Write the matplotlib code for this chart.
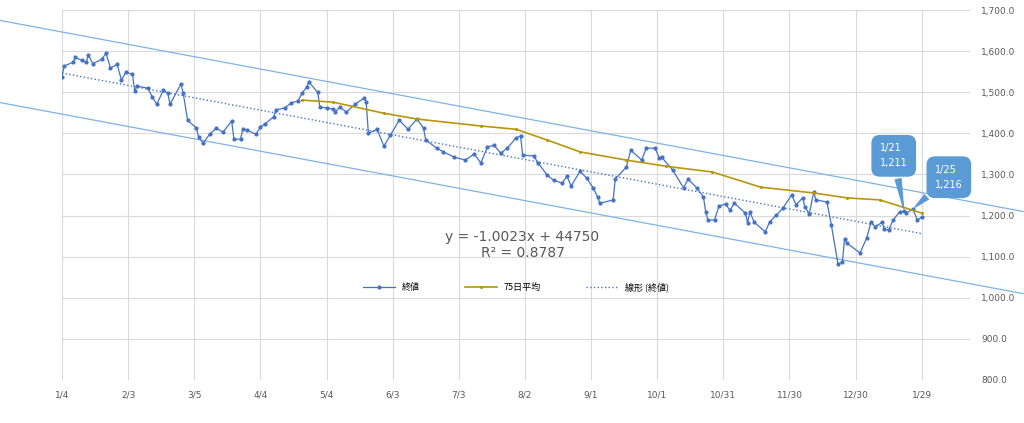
import numpy as np
import pandas as pd
import matplotlib.pyplot as plt

start = pd.Timestamp("2018-01-04")

# closing price: (days since 1/4, value)
close_days = [0, 1, 5, 6, 9, 11, 12, 14, 18, 20, 22, 25, 27, 29, 32, 33, 34, 39, 41, 43,
              46, 48, 49, 54, 55, 57, 61, 62, 64, 67, 70, 73, 77, 78, 81, 82, 84, 88, 90, 92,
              96, 97, 101, 104, 107, 109, 111, 112, 116, 117, 120, 123, 124, 126, 129, 133, 137, 138, 139, 143,
              146, 149, 153, 157, 161, 164, 165, 170, 173, 178, 183, 187, 190, 193, 196, 199, 202, 206, 208, 209,
              214, 216, 220, 223, 227, 229, 231, 235, 238, 241, 243, 244, 250, 251, 256, 258, 263, 265, 269, 271,
              272, 277, 282, 284, 288, 291, 292, 293, 296, 298, 301, 303, 305, 310, 311, 312, 314, 319, 321, 324,
              327, 331, 333, 336, 337, 339, 341, 342, 347, 349, 352, 354, 355, 356, 362, 365, 367, 369, 372, 373,
              375, 377, 380, 382, 383, 386, 388, 390]
close_vals = [1538, 1564, 1573, 1585, 1578, 1573, 1590, 1570, 1580, 1595, 1559, 1568, 1530, 1549, 1544, 1503, 1515, 1510, 1488, 1471,
              1505, 1498, 1471, 1520, 1498, 1432, 1413, 1391, 1376, 1398, 1413, 1403, 1430, 1386, 1386, 1410, 1408, 1398, 1415, 1423,
              1440, 1457, 1462, 1474, 1479, 1498, 1513, 1525, 1500, 1464, 1462, 1459, 1452, 1464, 1452, 1471, 1486, 1476, 1400, 1410,
              1369, 1396, 1432, 1410, 1435, 1413, 1384, 1364, 1355, 1342, 1335, 1350, 1328, 1367, 1371, 1352, 1364, 1389, 1394, 1347,
              1345, 1328, 1299, 1286, 1279, 1296, 1272, 1308, 1291, 1267, 1245, 1230, 1238, 1289, 1318, 1359, 1335, 1364, 1364, 1340,
              1342, 1311, 1267, 1289, 1267, 1245, 1209, 1189, 1189, 1223, 1228, 1213, 1230, 1206, 1182, 1209, 1184, 1160, 1184, 1201,
              1218, 1250, 1226, 1243, 1221, 1204, 1257, 1238, 1233, 1177, 1082, 1087, 1143, 1133, 1109, 1145, 1184, 1172, 1184, 1167,
              1165, 1189, 1209, 1211, 1206, 1216, 1189, 1196]

# 75-day moving average
ma_days = [109, 123, 146, 161, 190, 206, 220, 235, 256, 274, 295, 317, 341, 356, 371, 390]
ma_vals = [1481, 1476, 1449, 1435, 1418, 1410, 1384, 1355, 1335, 1320, 1306, 1269, 1255, 1243, 1238, 1206]

slope, intercept = -1.0023, 44750
tick_labels = ["1/4", "2/3", "3/5", "4/4", "5/4", "6/3", "7/3", "8/2", "9/1", "10/1",
               "10/31", "11/30", "12/30", "1/29"]

def trend(d):
    serial = (start - pd.Timestamp("1899-12-30")).days + np.asarray(d)
    return slope * serial + intercept

fig = plt.figure(figsize=(10.24, 4.23), dpi=100)
ax = fig.add_axes([0.0605, 0.102, 0.887, 0.874])

blue = "#4472c4"
gold = "#b8960c"
ax.plot(close_days, close_vals, color=blue, lw=0.9, marker="o", ms=2, label="終値", zorder=3)
ax.plot(ma_days, ma_vals, color=gold, lw=1.2, marker="o", ms=1.2, label="75日平均", zorder=3)
td = np.array([0, 390])
ax.plot(td, trend(td), color=blue, lw=1, ls=":", label="線形 (終値)", zorder=2)
cd = np.array([-28, 436])
for off in (100, -100):
    ax.plot(cd, trend(cd) + off, color="#7fb2e5", lw=0.9, clip_on=False, zorder=2)

ax.set_xlim(0, 412)
ax.set_ylim(800, 1700)
ax.set_xticks(np.arange(len(tick_labels)) * 30)
ax.set_xticklabels(tick_labels)
ax.set_yticks(np.arange(800, 1701, 100))
ax.set_yticklabels([f"{v:,.1f}" for v in range(800, 1701, 100)])
ax.yaxis.tick_right()
ax.tick_params(length=0, labelsize=6.5, colors="#595959", pad=8)
ax.grid(color="#d9d9d9", lw=0.8)
for s in ax.spines.values():
    s.set_visible(False)

ax.text(0.507, 0.365, "y = -1.0023x + 44750\nR² = 0.8787", transform=ax.transAxes,
        ha="center", va="center", fontsize=10, color="#595959", linespacing=1.2)

box = dict(boxstyle="round,pad=0.8", fc="#5b9bd5", ec="#5b9bd5")
ax.annotate("1/21\n1,211", xy=(382, 1211), xytext=(371, 1320), fontsize=7, color="white",
            linespacing=1.6, bbox=box,
            arrowprops=dict(arrowstyle="wedge,tail_width=0.6", fc="#5b9bd5", ec="#5b9bd5"))
ax.annotate("1/25\n1,216", xy=(386, 1216), xytext=(396, 1268), fontsize=7, color="white",
            linespacing=1.6, bbox=box,
            arrowprops=dict(arrowstyle="wedge,tail_width=0.6", fc="#5b9bd5", ec="#5b9bd5"))

ax.legend(loc="center", bbox_to_anchor=(0.5, 0.25), ncol=3, frameon=False,
          prop={"family": "Noto Sans CJK JP", "size": 6.5}, columnspacing=5, handlelength=3.5)

fig.savefig("out.png", dpi=100)
